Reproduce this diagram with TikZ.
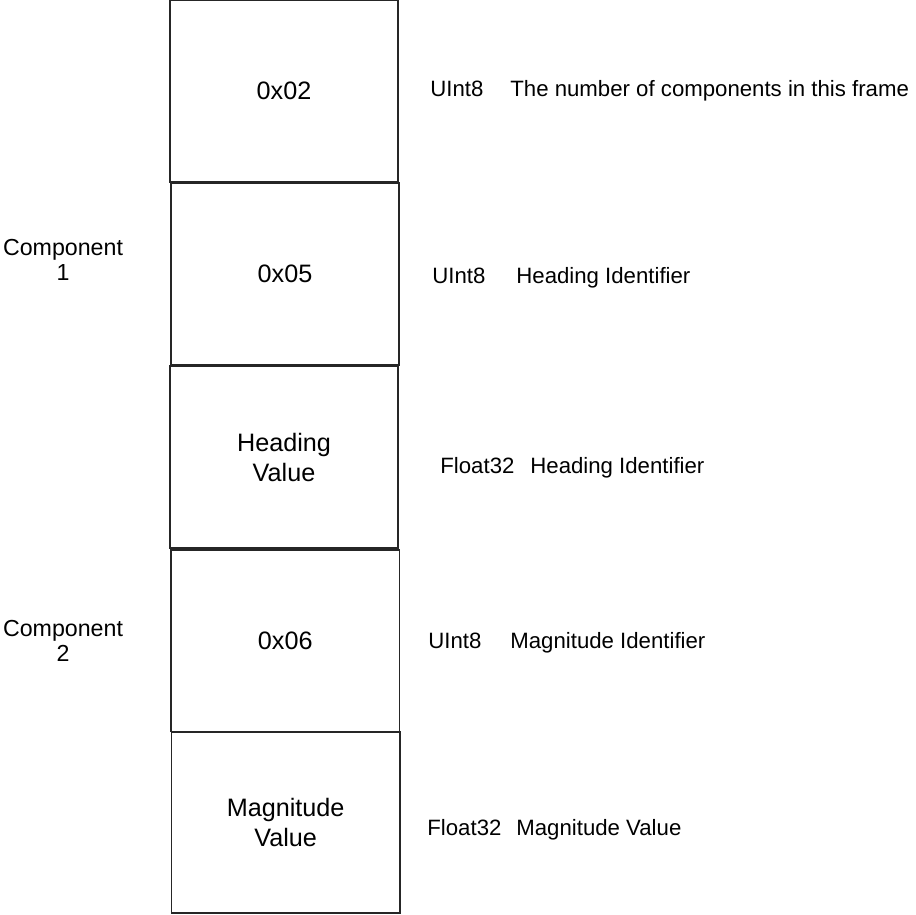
\documentclass[tikz,border=0pt]{standalone}
\usepackage{fontspec}
\setmainfont{Liberation Sans}
\begin{document}
\begin{tikzpicture}[x=0.5pt,y=-0.5pt,
  fieldbox/.style={draw=black!85,line width=0.6pt,inner sep=0pt,align=center,
    font=\fontsize{12.6}{15}\selectfont},
  sidelabel/.style={align=center,inner sep=0pt,font=\fontsize{11.6}{12.5}\selectfont},
  desc/.style={anchor=base west,inner sep=0pt,font=\fontsize{11.1}{13}\selectfont}]
\useasboundingbox (0,0) rectangle (916,915);
\node[fieldbox,minimum width=114pt,minimum height=91pt] (b1) at (284,91) {0x02};
\node[fieldbox,minimum width=114pt,minimum height=91pt] (b2) at (285,274) {0x05};
\node[fieldbox,minimum width=114pt,minimum height=91pt] (b3) at (284,457) {Heading\\Value};
\node[fieldbox,minimum width=114.25pt,minimum height=90.75pt] (b4) at (285.25,640.75) {0x06};
\node[fieldbox,minimum width=114.35pt,minimum height=90.5pt] (b5) at (285.6,822.5) {Magnitude\\Value};
\node[sidelabel] (c1) at (63,260) {Component\\1};
\node[sidelabel] (c2) at (63,641) {Component\\2};
\node[desc] (t1) at (430,97) {UInt8};
\node[desc] (d1) at (510,97) {The number of components in this frame};
\node[desc] (t2) at (432,283) {UInt8};
\node[desc] (d2) at (516,283) {Heading Identifier};
\node[desc] (t3) at (440,473) {Float32};
\node[desc] (d3) at (530,473) {Heading Identifier};
\node[desc] (t4) at (428,648) {UInt8};
\node[desc] (d4) at (510,648) {Magnitude Identifier};
\node[desc] (t5) at (427,835) {Float32};
\node[desc] (d5) at (516,835) {Magnitude Value};
\end{tikzpicture}
\end{document}
